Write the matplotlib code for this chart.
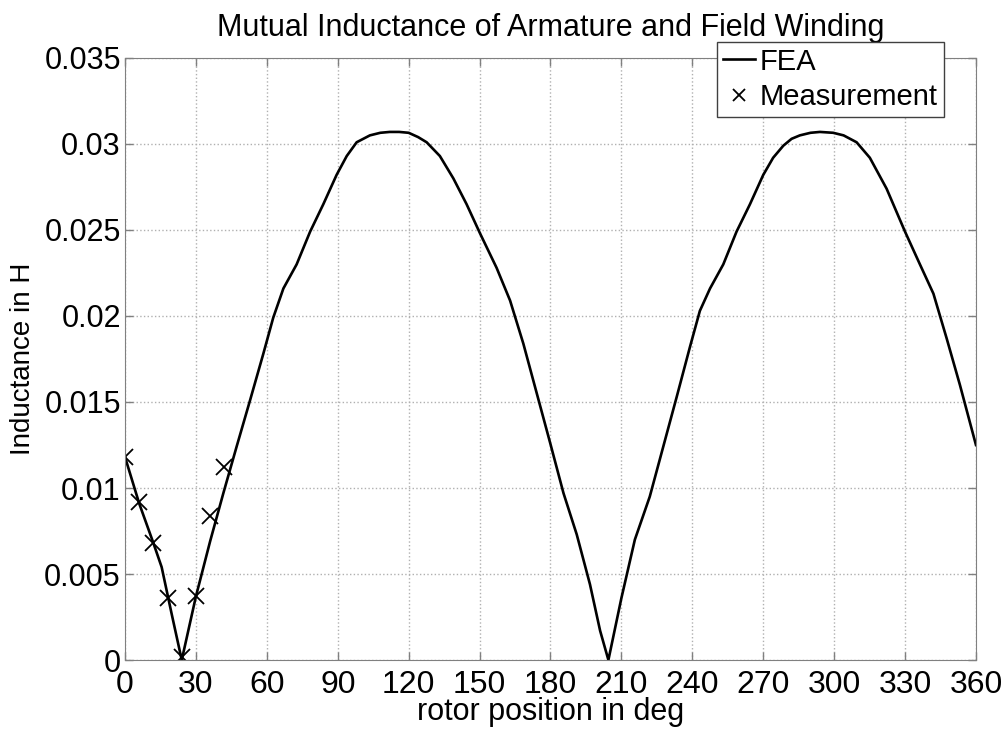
import matplotlib
matplotlib.use('Agg')
import matplotlib.pyplot as plt

plt.rcParams['font.family'] = ['Liberation Sans', 'DejaVu Sans']

# FEA curve
feaAngle = [0, 6, 12, 15.5, 19.7, 24, 30, 36, 41.6, 47.2, 52.9, 58.5, 62.7, 67,
            72.6, 78.3, 83.9, 89.5, 93.8, 98, 103.6, 108, 112, 116, 120, 124,
            127.6, 133.2, 138.9, 144.5, 150.2, 157.2, 162.9, 168.5, 174.2,
            179.9, 185.5, 191.1, 196.7, 201, 204.5, 210, 215.7, 222, 227.7,
            233.4, 239, 243.2, 247.5, 253.1, 258.7, 264.4, 270, 274.2, 278.5,
            282, 285.5, 290, 294, 299.6, 304, 309.5, 315.1, 322.2, 330, 336.3,
            342, 347.6, 353.2, 360]
feaInd = [0.0118, 0.0091, 0.0068, 0.0054, 0.0027, 0.0, 0.0037, 0.0069, 0.0097,
          0.0124, 0.0151, 0.0178, 0.0199, 0.0216, 0.0230, 0.0249, 0.0265,
          0.0282, 0.0293, 0.0301, 0.0305, 0.03065, 0.0307, 0.0307, 0.03065,
          0.0304, 0.0301, 0.0293, 0.0280, 0.0265, 0.0248, 0.0228, 0.0209,
          0.0184, 0.0155, 0.0126, 0.0097, 0.0073, 0.0044, 0.0017, 0.0, 0.0036,
          0.0070, 0.0095, 0.0124, 0.0153, 0.0182, 0.0203, 0.0216, 0.0230,
          0.0249, 0.0265, 0.0282, 0.0292, 0.0299, 0.0303, 0.0305, 0.03065,
          0.0307, 0.03065, 0.0305, 0.0301, 0.0292, 0.0274, 0.0249, 0.0230,
          0.0213, 0.0187, 0.0160, 0.0125]

# measured points
measAngle = [0, 6, 12, 18, 24, 30, 36, 42]
measInd = [0.0118, 0.0092, 0.0068, 0.0036, 0.0002, 0.0037, 0.0084, 0.0112]

xTicks = list(range(0, 361, 30))
yTicks = [0, 0.005, 0.01, 0.015, 0.02, 0.025, 0.03, 0.035]
yTickLabels = ['0', '0.005', '0.01', '0.015', '0.02', '0.025', '0.03', '0.035']

fig = plt.figure(figsize=(10.05, 7.31), dpi=100)
ax = fig.add_axes([0.1244, 0.0971, 0.8467, 0.8236])

ax.plot(feaAngle, feaInd, color='black', linewidth=1.9, label='FEA')
ax.plot(measAngle, measInd, linestyle='none', marker='x', color='black',
        markersize=11, markeredgewidth=1.3, label='Measurement')

ax.set_xlim(0, 360)
ax.set_ylim(0, 0.035)
ax.set_xticks(xTicks)
ax.set_yticks(yTicks)
ax.set_yticklabels(yTickLabels)
ax.grid(True, linestyle=':', color='#b0b0b0', linewidth=1.0)
ax.tick_params(direction='in', top=True, right=True, length=6, width=1,
               color='#808080')
ax.tick_params(axis='x', labelsize=23, pad=7)
ax.tick_params(axis='y', labelsize=22, pad=3)
for sp in ax.spines.values():
    sp.set_color('#808080')

ax.set_title('Mutual Inductance of Armature and Field Winding', fontsize=22, pad=16)
ax.set_xlabel('rotor position in deg', fontsize=22, labelpad=-2)
ax.set_ylabel('Inductance in H', fontsize=20, labelpad=6)

leg = ax.legend(loc='upper right', bbox_to_anchor=(0.962, 1.027), fontsize=21,
                fancybox=False, framealpha=1, edgecolor='#404040',
                handlelength=1.1, handletextpad=0.15, borderpad=0.2,
                labelspacing=0.25, borderaxespad=0, markerscale=0.75)
leg.get_frame().set_linewidth(1.0)

fig.savefig('out.png', dpi=100)
